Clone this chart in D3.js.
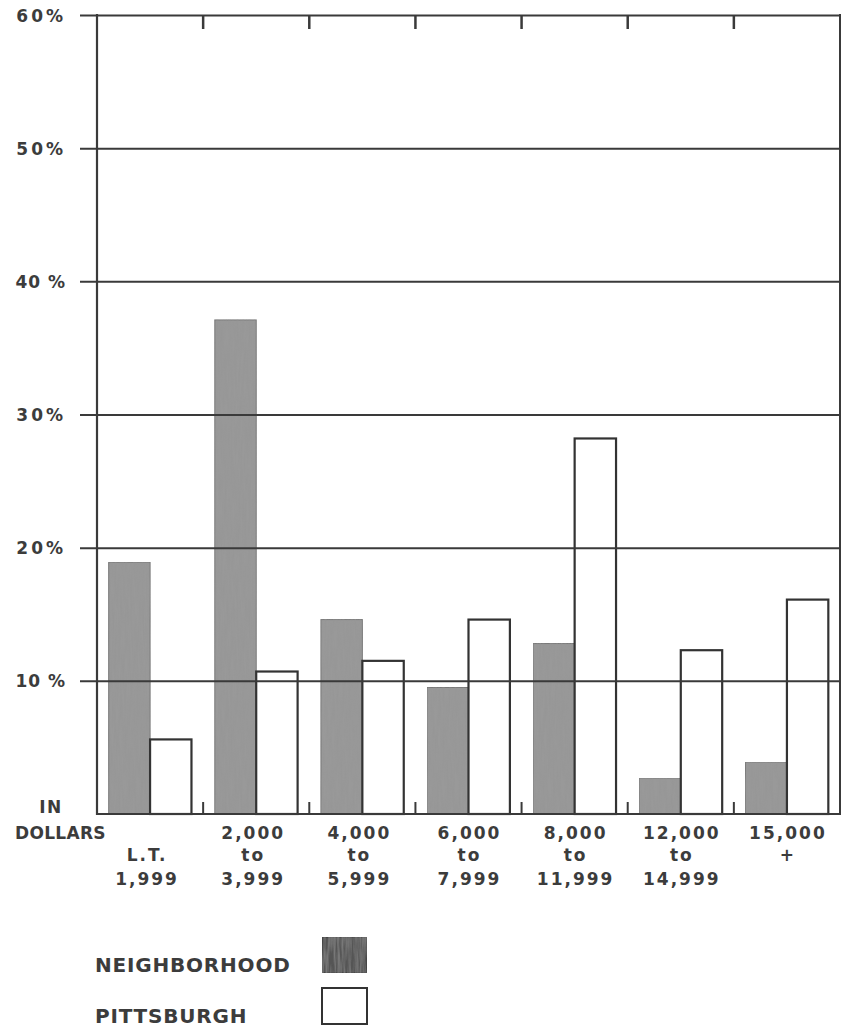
<!DOCTYPE html>
<html>
<head>
<meta charset="utf-8">
<script src="https://cdn.jsdelivr.net/npm/d3@7"></script>
<style>
  html, body { margin: 0; padding: 0; background: #ffffff; }
  svg { display: block; }
  text { font-family: "DejaVu Sans", sans-serif; font-weight: bold; fill: #3c3c3c; }
</style>
</head>
<body>
<svg id="chart" width="845" height="1030"></svg>
<script>
// Family income distribution, percent of households per income bracket
const categories = ["L.T. 1,999", "2,000 to 3,999", "4,000 to 5,999", "6,000 to 7,999",
                    "8,000 to 11,999", "12,000 to 14,999", "15,000 +"];
const labelLine1 = ["", "2,000", "4,000", "6,000", "8,000", "12,000", "15,000"];
const labelLine2 = ["L.T.", "to", "to", "to", "to", "to", "+"];
const labelLine3 = ["1,999", "3,999", "5,999", "7,999", "11,999", "14,999", ""];
const series = ["NEIGHBORHOOD", "PITTSBURGH"];
const neighborhood = [18.9, 37.1, 14.6, 9.5, 12.8, 2.7, 3.9];
const pittsburgh = [5.6, 10.7, 11.5, 14.6, 28.2, 12.3, 16.1];
const yTicks = [10, 20, 30, 40, 50, 60];
const yTickLabels = ["10 %", "20%", "30%", "40 %", "50%", "60%"];

const ink = "#3a3a3a";
const shade = "#999999";

const svg = d3.select("#chart");
const plotLeft = 97, plotRight = 840, plotTop = 15, plotBottom = 814;

// pencil-like shading for the filled bars
const defs = svg.append("defs");
const pencil = defs.append("filter").attr("id", "pencil")
  .attr("x", 0).attr("y", 0).attr("width", 1).attr("height", 1);
pencil.append("feTurbulence").attr("type", "fractalNoise")
  .attr("baseFrequency", "0.5 0.04").attr("numOctaves", 2).attr("seed", 7).attr("result", "noise");
pencil.append("feColorMatrix").attr("in", "noise").attr("type", "matrix")
  .attr("values", "0 0 0 0 0.3  0 0 0 0 0.3  0 0 0 0 0.3  1.0 0 0 0 -0.3")
  .attr("result", "streaks");
pencil.append("feComposite").attr("in", "streaks").attr("in2", "SourceGraphic")
  .attr("operator", "in").attr("result", "streaksIn");
const merge = pencil.append("feMerge");
merge.append("feMergeNode").attr("in", "SourceGraphic");
merge.append("feMergeNode").attr("in", "streaksIn");

const y = d3.scaleLinear().domain([0, 60]).range([plotBottom, plotTop]);
const x0 = d3.scaleBand().domain(categories).range([plotLeft, plotRight])
  .paddingInner(0.22).paddingOuter(0.11);
const x1 = d3.scaleBand().domain(series).range([0, x0.bandwidth()]);
const gap = (x0.step() - x0.bandwidth()) / 2;

const rows = categories.map((c, i) => ({
  cat: c, values: [
    { key: series[0], v: neighborhood[i] },
    { key: series[1], v: pittsburgh[i] }
  ]
}));

// bars
const groups = svg.append("g").selectAll("g").data(rows).join("g")
  .attr("transform", d => `translate(${x0(d.cat)},0)`);
groups.selectAll("rect").data(d => d.values).join("rect")
  .attr("x", d => x1(d.key))
  .attr("width", x1.bandwidth())
  .attr("y", d => y(d.v))
  .attr("height", d => y(0) - y(d.v))
  .attr("fill", d => d.key === series[0] ? shade : "none")
  .attr("filter", d => d.key === series[0] ? "url(#pencil)" : null)
  .attr("stroke", d => d.key === series[0] ? "#777" : "#333")
  .attr("stroke-width", d => d.key === series[0] ? 1 : 2.2);

// horizontal rules and percent labels
const yAxis = d3.axisLeft(y).tickValues(yTicks)
  .tickSize(-(plotRight - 80)).tickPadding(14)
  .tickFormat((d, i) => yTickLabels[i]);
const gy = svg.append("g").attr("transform", "translate(80,0)").call(yAxis);
gy.select(".domain").remove();
gy.selectAll(".tick line").attr("stroke", ink).attr("stroke-width", 2);
gy.selectAll(".tick text")
  .attr("font-size", 17)
  .attr("letter-spacing", (d, i) => yTickLabels[i].includes(" ") ? 1 : 3)
  .attr("dy", "0.36em").attr("fill", "#3c3c3c")
  .style("font-family", "'DejaVu Sans', sans-serif").style("font-weight", "bold");

// frame
svg.append("line").attr("x1", plotLeft).attr("x2", plotLeft).attr("y1", plotTop - 1).attr("y2", plotBottom + 1)
  .attr("stroke", ink).attr("stroke-width", 2.2);
svg.append("line").attr("x1", plotRight).attr("x2", plotRight).attr("y1", plotTop - 1).attr("y2", plotBottom + 1)
  .attr("stroke", ink).attr("stroke-width", 2);
svg.append("line").attr("x1", plotLeft).attr("x2", plotRight).attr("y1", plotBottom).attr("y2", plotBottom)
  .attr("stroke", ink).attr("stroke-width", 2.2);

// bracket dividers along the top and bottom edges
const dividers = categories.slice(1).map(c => x0(c) - gap);
svg.append("g").selectAll("line").data(dividers).join("line")
  .attr("x1", d => d).attr("x2", d => d)
  .attr("y1", plotTop).attr("y2", plotTop + 14)
  .attr("stroke", ink).attr("stroke-width", 2.5);
svg.append("g").selectAll("line").data(dividers).join("line")
  .attr("x1", d => d).attr("x2", d => d)
  .attr("y1", plotBottom).attr("y2", plotBottom - 12)
  .attr("stroke", ink).attr("stroke-width", 2);

// category labels
const cx = c => x0(c) + x0.bandwidth() / 2;
const catG = svg.append("g").attr("font-size", 17).attr("letter-spacing", 2)
  .attr("text-anchor", "middle");
[[labelLine1, 839], [labelLine2, 861], [labelLine3, 885]].forEach(([lines, base]) => {
  catG.append("g").selectAll("text").data(categories).join("text")
    .attr("x", (c, i) => cx(c) + (i < 3 ? -3 : 1)).attr("y", base)
    .text((c, i) => lines[i]);
});

svg.append("text").attr("x", 51).attr("y", 813).attr("text-anchor", "middle")
  .attr("font-size", 17).attr("letter-spacing", 1.5).text("IN");
svg.append("text").attr("x", 15).attr("y", 839)
  .attr("font-size", 17).attr("letter-spacing", 0.3).text("DOLLARS");

// legend
const legend = svg.append("g").selectAll("g").data(series).join("g")
  .attr("transform", (d, i) => `translate(0,${i * 51})`);
legend.append("text").attr("x", 95).attr("y", 972)
  .attr("font-size", 20).attr("letter-spacing", 0.8).text(d => d);
legend.append("rect").attr("x", 322).attr("y", 937).attr("width", 45).attr("height", 36)
  .attr("fill", (d, i) => i === 0 ? "#555555" : "#ffffff")
  .attr("filter", (d, i) => i === 0 ? "url(#pencil)" : null)
  .attr("stroke", (d, i) => i === 0 ? "#454545" : "#333")
  .attr("stroke-width", 2);
</script>
</body>
</html>
